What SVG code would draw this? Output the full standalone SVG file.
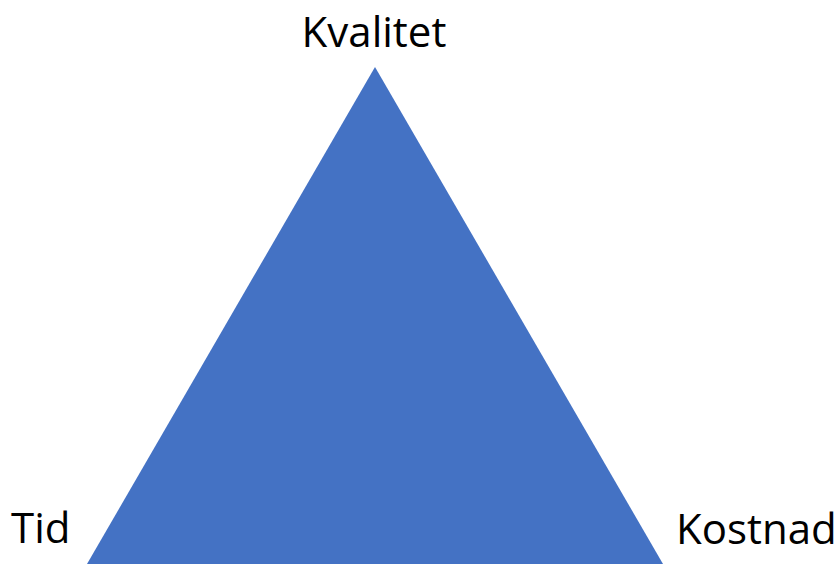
<svg xmlns="http://www.w3.org/2000/svg" width="839" height="564" viewBox="0 0 839 564">
  <style>
    .label { font-family: "Open Sans", "Noto Sans", "Liberation Sans", sans-serif; font-size: 42px; fill: #000000; }
    .tri { fill: #4472C4; stroke: none; }
  </style>
  <rect width="839" height="564" fill="#ffffff"/>
  <g id="triangle">
    <polygon class="tri" points="375,67 663,564 87,564"/>
  </g>
  <g id="kvalitet">
    <text class="label" x="374" y="47" text-anchor="middle">Kvalitet</text>
  </g>
  <g id="tid">
    <text class="label" x="11" y="543">Tid</text>
  </g>
  <g id="kostnad">
    <text class="label" x="676" y="544">Kostnad</text>
  </g>
</svg>
